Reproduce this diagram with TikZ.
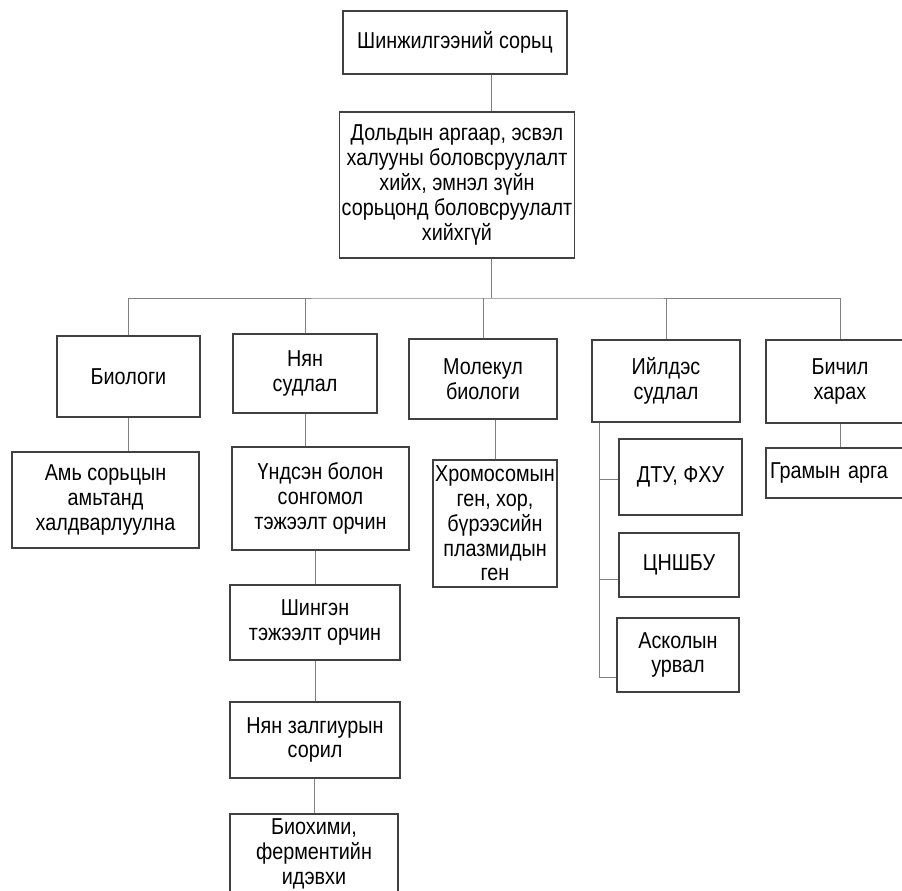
\documentclass[tikz,border=0pt]{standalone}
\usepackage{fontspec}
\setmainfont{Liberation Sans}[FakeStretch=0.86]
\begin{document}
\begin{tikzpicture}[
    x=0.5pt, y=-0.5pt,
    box/.style={draw=black!75, line width=0.7pt, align=center, inner sep=1pt,
        font=\fontsize{11.5}{12.4}\selectfont},
    link/.style={draw=black!50, line width=0.4pt},
    ]
    \useasboundingbox (0,0) rectangle (902,891);

    \node[box, minimum width=112pt, minimum height=31.5pt] (top) at (455,42.5) {Шинжилгээний сорьц};
    \node[box, minimum width=115pt, minimum height=73pt] (prep) at (457,185)
        {Дольдын аргаар, эсвэл\\ халууны боловсруулалт\\ хийх, эмнэл зүйн\\ сорьцонд боловсруулалт\\ хийхгүй};

    % methods
    \node[box, minimum width=71.5pt, minimum height=40.5pt] (bio) at (128.5,376.5) {Биологи};
    \node[box, minimum width=72pt, minimum height=39.5pt] (bact) at (305,373.5) {Нян\\ судлал};
    \node[box, minimum width=74pt, minimum height=40pt] (mol) at (483,379) {Молекул\\ биологи};
    \node[box, minimum width=74pt, minimum height=41pt] (sero) at (666,381) {Ийлдэс\\ судлал};
    \node[box, minimum width=74pt, minimum height=41.5pt] (micro) at (840,381.5) {Бичил\\ харах};

    \node[box, minimum width=93.5pt, minimum height=48pt] (animal) at (105.5,500)
        {Амь сорьцын\\ амьтанд\\ халдварлуулна};
    \node[box, minimum width=88.5pt, minimum height=51.5pt] (media) at (320.5,498.5)
        {Үндсэн болон\\ сонгомол\\ тэжээлт орчин};
    \node[box, minimum width=85pt, minimum height=37.5pt] (liquid) at (315,622.5) {Шингэн\\ тэжээлт орчин};
    \node[box, minimum width=85pt, minimum height=38pt] (phage) at (315,740) {Нян залгиурын\\ сорил};
    \node[box, minimum width=84pt, minimum height=40pt] (biochem) at (314,854)
        {Биохими,\\ ферментийн\\ идэвхи};
    \node[box, minimum width=61pt, minimum height=63.5pt] (chromo) at (495,523.5)
        {Хромосомын\\ ген, хор,\\ бүрээсийн\\ плазмидын\\ ген};
    \node[box, minimum width=61.5pt, minimum height=38pt] (dtu) at (680.5,477) {ДТУ, ФХУ};
    \node[box, minimum width=60pt, minimum height=32pt] (cnsh) at (679,565) {ЦНШБУ};
    \node[box, minimum width=61pt, minimum height=37pt] (ascoli) at (678,655) {Асколын\\ урвал};
    \node[box, minimum width=74pt, minimum height=25pt, text width=70pt, align=left,
        inner xsep=2pt] (gram) at (840,473) {Грамын арга};

    % connectors
    \coordinate (trunk) at (491,298);
    \draw[link] (top.south -| trunk) -- (prep.north -| trunk);
    \draw[link] (prep.south -| trunk) -- (trunk);
    \draw[link] (bio.north) |- (trunk) -| (micro.north);
    \foreach \n in {bact,mol,sero}
        \draw[link] (\n.north) -- (\n.north |- trunk);

    \draw[link] (bio.south) -- (bio.south |- animal.north);
    \draw[link] (bact.south) -- (bact.south |- media.north);
    \foreach \a/\b in {media/liquid, liquid/phage, phage/biochem}
        \draw[link] (\b.north) -- (\b.north |- \a.south);
    \draw[link] (chromo.north) -- (chromo.north |- mol.south);
    \draw[link] (micro.south) -- (micro.south |- gram.north);

    \coordinate (seroL) at ([xshift=4pt]sero.south west);
    \draw[link] (seroL) |- ([yshift=-1pt]dtu.west);
    \draw[link] (seroL) |- ([yshift=-7pt]cnsh.west);
    \draw[link] (seroL) |- ([yshift=-11pt]ascoli.west);
\end{tikzpicture}
\end{document}
